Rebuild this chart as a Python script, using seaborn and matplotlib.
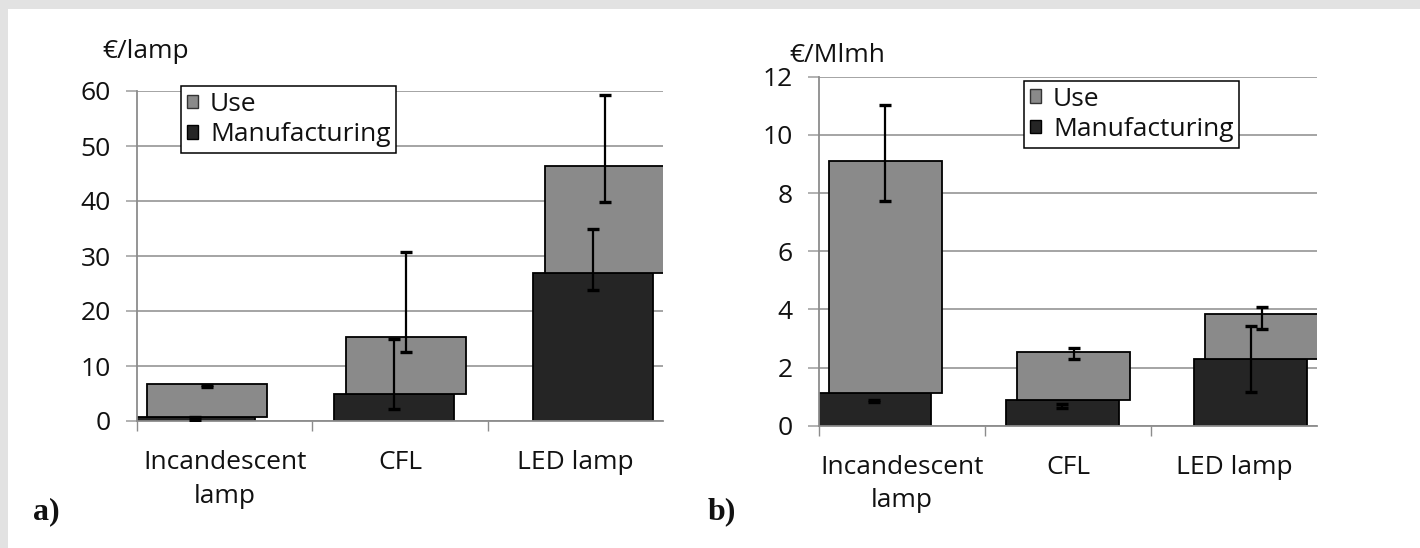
import matplotlib
matplotlib.use("Agg")
import matplotlib.pyplot as plt
from matplotlib.patches import Rectangle
import seaborn as sns
import pandas as pd

# ---------------- data ----------------
categories = ["Incandescent\nlamp", "CFL", "LED lamp"]
series = ["Use", "Manufacturing"]

# panel a) EUR per lamp
manuf_a = [0.7, 5.0, 26.9]
use_a = [6.0, 10.3, 19.5]
manuf_lo_a = [0.1, 2.2, 23.8]
manuf_hi_a = [0.7, 15.0, 35.0]
use_lo_a = [6.2, 12.5, 39.9]
use_hi_a = [6.5, 30.8, 59.3]
yticks_a = [0, 10, 20, 30, 40, 50, 60]

# panel b) EUR per Mlmh
manuf_b = [1.11, 0.88, 2.28]
use_b = [8.0, 1.66, 1.56]
manuf_lo_b = [0.80, 0.60, 1.17]
manuf_hi_b = [0.90, 0.75, 3.44]
use_lo_b = [7.73, 2.28, 3.34]
use_hi_b = [11.04, 2.68, 4.07]
yticks_b = [0, 2, 4, 6, 8, 10, 12]

# ---------------- style ----------------
USE_C = "#8a8a8a"
MANUF_C = "#252525"
GRID_C = "#a4a4a4"
AXIS_C = "#8c8c8c"
TXT_C = "#111111"
FS = 19

sns.set_theme(style="white")
plt.rcParams["font.family"] = ["Open Sans", "DejaVu Sans"]

fig = plt.figure(figsize=(14.2, 5.48), dpi=100)
fig.patch.set_facecolor("white")
# grey frame bands (top and left) of the scanned figure
fig.patches.append(Rectangle((0, 1 - 9 / 548), 1, 9 / 548,
                             transform=fig.transFigure, facecolor="#e2e2e2",
                             edgecolor="none", zorder=-10))
fig.patches.append(Rectangle((0, 0), 8 / 1420, 1,
                             transform=fig.transFigure, facecolor="#e2e2e2",
                             edgecolor="none", zorder=-10))

XLIM = (-0.322, 2.322)


def panel(ax, manuf, use, mlo, mhi, ulo, uhi, yticks, unit, unit_pos, leg_anchor):
    df = pd.DataFrame({"cat": categories, "manuf": manuf, "use": use})
    n0 = len(ax.patches)
    sns.barplot(data=df, x="cat", y="manuf", color=MANUF_C, width=0.6,
                saturation=1, edgecolor="black", linewidth=1.3,
                errorbar=None, ax=ax, zorder=2)
    manuf_bars = ax.patches[n0:]
    n1 = len(ax.patches)
    sns.barplot(data=df, x="cat", y="use", bottom=list(df["manuf"]),
                color=USE_C, width=0.6, saturation=1, edgecolor="black",
                linewidth=1.3, errorbar=None, ax=ax, zorder=3)
    use_bars = ax.patches[n1:]
    # Excel-like horizontal offset between the two series
    for p in manuf_bars:
        p.set_x(p.get_x() - 0.03)
    for p in use_bars:
        p.set_x(p.get_x() + 0.03)

    mx = [p.get_x() + p.get_width() / 2 for p in manuf_bars]
    ux = [p.get_x() + p.get_width() / 2 for p in use_bars]
    ax.errorbar(mx, [(l + h) / 2 for l, h in zip(mlo, mhi)],
                yerr=[(h - l) / 2 for l, h in zip(mlo, mhi)], fmt="none",
                ecolor="black", elinewidth=1.6, capsize=4.5, capthick=2.4,
                zorder=5)
    ax.errorbar(ux, [(l + h) / 2 for l, h in zip(ulo, uhi)],
                yerr=[(h - l) / 2 for l, h in zip(ulo, uhi)], fmt="none",
                ecolor="black", elinewidth=1.6, capsize=4.5, capthick=2.4,
                zorder=5)

    ax.set_xlim(*XLIM)
    ax.set_ylim(yticks[0], yticks[-1])
    span = XLIM[1] - XLIM[0]
    ax.set_xticks([XLIM[0] + (k + 0.5) * span / 3 for k in range(3)])
    ax.set_xticklabels(categories, fontsize=FS, color=TXT_C,
                       linespacing=1.45)
    ax.set_xticks([XLIM[0] + k * span / 3 for k in range(3)], minor=True)
    ax.tick_params(axis="x", which="major", length=0, pad=21)
    ax.tick_params(axis="x", which="minor", length=7, width=1, color=AXIS_C,
                   direction="out", bottom=True)
    ax.set_yticks(yticks)
    ax.set_yticklabels([str(t) for t in yticks], fontsize=FS, color=TXT_C)
    ax.tick_params(axis="y", length=8, width=1.2, color=GRID_C, pad=11,
                   left=True)
    ax.set_xlabel("")
    ax.set_ylabel("")
    ax.set_axisbelow(True)
    ax.yaxis.grid(True, color=GRID_C, linewidth=1.4)
    ax.xaxis.grid(False)
    for s in ("top", "right"):
        ax.spines[s].set_visible(False)
    for s in ("left", "bottom"):
        ax.spines[s].set_color(AXIS_C)
        ax.spines[s].set_linewidth(1.3)
    ax.set_facecolor("none")

    ax.text(unit_pos[0], unit_pos[1], unit, transform=ax.transAxes,
            fontsize=FS, color=TXT_C, ha="left", va="baseline")

    handles = [Rectangle((0, 0), 1, 1, facecolor=USE_C, edgecolor="#333333",
                         linewidth=1),
               Rectangle((0, 0), 1, 1, facecolor=MANUF_C, edgecolor="black",
                         linewidth=1)]
    leg = ax.legend(handles, series, loc="upper left", bbox_to_anchor=leg_anchor,
                    fontsize=FS, frameon=True, fancybox=False,
                    edgecolor="black", framealpha=1, handlelength=0.42,
                    handleheight=0.42, handletextpad=0.45, labelspacing=0.2,
                    borderpad=0.22, borderaxespad=0)
    for t in leg.get_texts():
        t.set_color(TXT_C)
    leg.get_frame().set_linewidth(1.1)
    leg.set_zorder(10)


ax_a = fig.add_axes([137 / 1420, (548 - 421) / 548, 526 / 1420, 330 / 548])
panel(ax_a, manuf_a, use_a, manuf_lo_a, manuf_hi_a, use_lo_a, use_hi_a,
      yticks_a, "€/lamp", (-0.066, 1.10), (0.084, 1.015))

ax_b = fig.add_axes([819 / 1420, (548 - 425.7) / 548, 498 / 1420, 349 / 548])
panel(ax_b, manuf_b, use_b, manuf_lo_b, manuf_hi_b, use_lo_b, use_hi_b,
      yticks_b, "€/Mlmh", (-0.06, 1.042), (0.412, 0.988))

fig.text(33 / 1420, 1 - 519 / 548, "a)", fontsize=23, fontweight="bold",
         family=["Liberation Serif", "DejaVu Serif"], color=TXT_C,
         ha="left", va="baseline")
fig.text(708 / 1420, 1 - 519 / 548, "b)", fontsize=23, fontweight="bold",
         family=["Liberation Serif", "DejaVu Serif"], color=TXT_C,
         ha="left", va="baseline")

fig.savefig("out.png", dpi=100, facecolor=fig.get_facecolor())
